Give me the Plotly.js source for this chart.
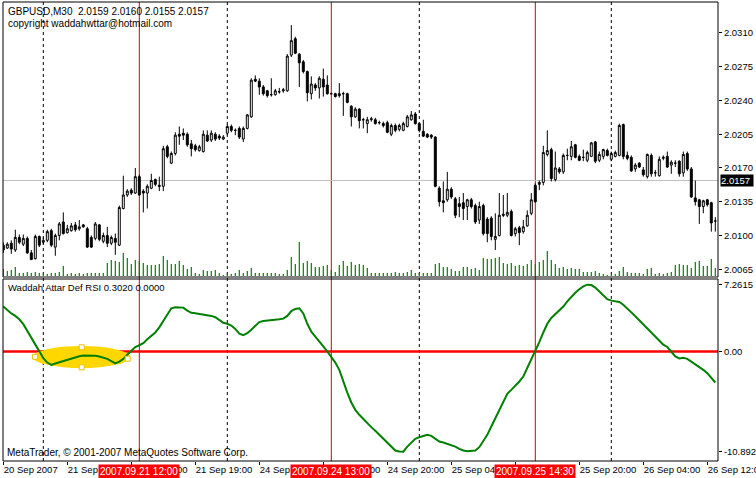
<!DOCTYPE html>
<html><head><meta charset="utf-8">
<script src="https://cdn.plot.ly/plotly-3.0.1.min.js"></script>
<style>html,body{margin:0;padding:0;background:#fff}#chart{width:756px;height:478px}</style>
</head><body><div id="chart"></div>
<script>
// ---- Data (GBPUSD M30, one entry per bar) ----
const open = [
2.0090,2.0087,2.0092,2.0085,2.0098,2.0091,2.0097,2.0082,2.0076,2.0099,
2.0093,2.0095,2.0105,2.0088,2.0100,2.0114,2.0103,2.0105,2.0111,2.0107,
2.0111,2.0107,2.0098,2.0097,2.0111,2.0094,2.0100,2.0092,2.0097,2.0090,
2.0128,2.0142,2.0147,2.0144,2.0161,2.0146,2.0144,2.0149,2.0158,2.0152,
2.0151,2.0192,2.0175,2.0185,2.0205,2.0206,2.0205,2.0195,2.0193,2.0188,
2.0187,2.0204,2.0199,2.0205,2.0203,2.0200,2.0206,2.0213,2.0209,2.0211,
2.0200,2.0211,2.0223,2.0262,2.0260,2.0254,2.0250,2.0246,2.0246,2.0249,
2.0250,2.0250,2.0287,2.0304,2.0288,2.0280,2.0270,2.0247,2.0256,2.0253,
2.0262,2.0256,2.0247,2.0247,2.0247,2.0247,2.0247,2.0234,2.0223,2.0231,
2.0220,2.0216,2.0220,2.0220,2.0217,2.0216,2.0217,2.0205,2.0214,2.0210,
2.0209,2.0213,2.0220,2.0226,2.0216,2.0208,2.0205,2.0204,2.0202,2.0149,
2.0136,2.0137,2.0148,2.0138,2.0133,2.0134,2.0130,2.0137,2.0131,2.0116,
2.0131,2.0117,2.0118,2.0096,2.0100,2.0122,2.0121,2.0125,2.0102,2.0108,
2.0104,2.0110,2.0123,2.0152,2.0153,2.0155,2.0184,2.0189,2.0158,2.0169,
2.0166,2.0183,2.0182,2.0194,2.0182,2.0181,2.0178,2.0182,2.0197,2.0178,
2.0182,2.0188,2.0179,2.0182,2.0183,2.0215,2.0183,2.0181,2.0169,2.0175,
2.0168,2.0161,2.0183,2.0165,2.0162,2.0180,2.0182,2.0173,2.0175,2.0177,
2.0165,2.0185,2.0169,2.0139,2.0137,2.0130,2.0137,2.0134,2.0115];
const high = [
2.0093,2.0093,2.0095,2.0106,2.0101,2.0101,2.0099,2.0085,2.0101,2.0100,
2.0098,2.0106,2.0107,2.0102,2.0114,2.0124,2.0111,2.0113,2.0114,2.0116,
2.0112,2.0109,2.0100,2.0114,2.0112,2.0103,2.0109,2.0100,2.0102,2.0131,
2.0162,2.0148,2.0149,2.0170,2.0163,2.0148,2.0153,2.0164,2.0159,2.0161,
2.0193,2.0194,2.0187,2.0207,2.0213,2.0211,2.0207,2.0199,2.0195,2.0194,
2.0209,2.0209,2.0209,2.0207,2.0205,2.0204,2.0215,2.0215,2.0211,2.0213,
2.0213,2.0226,2.0263,2.0266,2.0263,2.0256,2.0251,2.0263,2.0252,2.0253,
2.0253,2.0288,2.0318,2.0306,2.0289,2.0282,2.0271,2.0265,2.0258,2.0265,
2.0273,2.0266,2.0248,2.0248,2.0258,2.0249,2.0248,2.0235,2.0233,2.0232,
2.0222,2.0223,2.0223,2.0222,2.0219,2.0218,2.0219,2.0216,2.0216,2.0216,
2.0218,2.0225,2.0229,2.0228,2.0217,2.0220,2.0206,2.0205,2.0203,2.0151,
2.0156,2.0166,2.0150,2.0140,2.0140,2.0144,2.0138,2.0139,2.0133,2.0135,
2.0133,2.0119,2.0120,2.0123,2.0144,2.0142,2.0144,2.0127,2.0109,2.0110,
2.0116,2.0126,2.0144,2.0154,2.0157,2.0193,2.0209,2.0191,2.0187,2.0171,
2.0185,2.0190,2.0198,2.0195,2.0184,2.0189,2.0188,2.0197,2.0198,2.0187,
2.0190,2.0190,2.0187,2.0188,2.0216,2.0216,2.0187,2.0183,2.0175,2.0176,
2.0171,2.0185,2.0185,2.0168,2.0182,2.0183,2.0187,2.0178,2.0178,2.0178,
2.0187,2.0187,2.0171,2.0157,2.0138,2.0137,2.0138,2.0135,2.0119];
const low = [
2.0082,2.0086,2.0081,2.0083,2.0091,2.0089,2.0081,2.0075,2.0075,2.0088,
2.0091,2.0093,2.0088,2.0079,2.0095,2.0101,2.0102,2.0104,2.0104,2.0105,
2.0108,2.0087,2.0087,2.0095,2.0094,2.0092,2.0088,2.0090,2.0080,2.0089,
2.0127,2.0140,2.0142,2.0143,2.0141,2.0124,2.0128,2.0148,2.0151,2.0146,
2.0146,2.0180,2.0174,2.0183,2.0194,2.0199,2.0192,2.0182,2.0187,2.0187,
2.0186,2.0197,2.0197,2.0198,2.0199,2.0199,2.0204,2.0207,2.0204,2.0200,
2.0197,2.0210,2.0222,2.0259,2.0246,2.0245,2.0243,2.0244,2.0245,2.0247,
2.0248,2.0249,2.0285,2.0288,2.0254,2.0268,2.0239,2.0241,2.0250,2.0242,
2.0244,2.0246,2.0246,2.0243,2.0243,2.0224,2.0237,2.0213,2.0222,2.0211,
2.0211,2.0206,2.0218,2.0215,2.0215,2.0212,2.0206,2.0203,2.0207,2.0208,
2.0208,2.0212,2.0219,2.0215,2.0207,2.0202,2.0201,2.0200,2.0150,2.0130,
2.0124,2.0135,2.0138,2.0118,2.0119,2.0116,2.0116,2.0128,2.0112,2.0112,
2.0100,2.0093,2.0095,2.0085,2.0099,2.0119,2.0119,2.0099,2.0099,2.0090,
2.0102,2.0109,2.0121,2.0134,2.0147,2.0152,2.0182,2.0156,2.0156,2.0164,
2.0164,2.0178,2.0178,2.0180,2.0177,2.0177,2.0176,2.0182,2.0175,2.0176,
2.0179,2.0182,2.0177,2.0181,2.0182,2.0179,2.0178,2.0166,2.0166,2.0170,
2.0161,2.0159,2.0161,2.0161,2.0161,2.0178,2.0170,2.0164,2.0171,2.0161,
2.0161,2.0167,2.0139,2.0131,2.0112,2.0123,2.0130,2.0104,2.0104];
const close = [
2.0085,2.0091,2.0086,2.0098,2.0093,2.0097,2.0082,2.0075,2.0099,2.0090,
2.0095,2.0104,2.0090,2.0100,2.0112,2.0102,2.0107,2.0110,2.0106,2.0109,
2.0109,2.0088,2.0088,2.0112,2.0096,2.0100,2.0092,2.0098,2.0093,2.0129,
2.0142,2.0146,2.0144,2.0161,2.0142,2.0144,2.0151,2.0157,2.0153,2.0151,
2.0190,2.0182,2.0185,2.0204,2.0203,2.0204,2.0194,2.0190,2.0189,2.0192,
2.0205,2.0198,2.0206,2.0200,2.0201,2.0202,2.0213,2.0209,2.0209,2.0202,
2.0211,2.0225,2.0261,2.0260,2.0254,2.0247,2.0245,2.0246,2.0250,2.0249,
2.0251,2.0286,2.0302,2.0289,2.0279,2.0270,2.0248,2.0257,2.0253,2.0263,
2.0254,2.0247,2.0247,2.0244,2.0245,2.0247,2.0238,2.0223,2.0231,2.0219,
2.0220,2.0220,2.0221,2.0216,2.0217,2.0214,2.0207,2.0214,2.0209,2.0214,
2.0216,2.0223,2.0225,2.0216,2.0209,2.0203,2.0202,2.0202,2.0151,2.0135,
2.0134,2.0148,2.0140,2.0121,2.0130,2.0128,2.0137,2.0130,2.0114,2.0130,
2.0102,2.0102,2.0099,2.0099,2.0121,2.0121,2.0124,2.0100,2.0107,2.0103,
2.0109,2.0121,2.0137,2.0135,2.0155,2.0186,2.0188,2.0159,2.0170,2.0166,
2.0183,2.0183,2.0192,2.0181,2.0178,2.0181,2.0186,2.0196,2.0177,2.0184,
2.0189,2.0183,2.0185,2.0186,2.0214,2.0182,2.0180,2.0167,2.0173,2.0171,
2.0163,2.0184,2.0164,2.0165,2.0179,2.0181,2.0171,2.0176,2.0175,2.0164,
2.0184,2.0169,2.0140,2.0135,2.0130,2.0136,2.0132,2.0113,2.0115];
const volume = [
70,50,60,90,30,30,40,30,40,30,
20,20,30,30,40,100,20,30,20,30,
20,30,30,30,30,30,130,160,150,140,
230,180,120,160,150,130,110,110,110,120,
200,160,120,120,150,110,70,90,30,20,
60,50,50,60,30,10,20,20,30,60,
30,50,80,30,30,30,30,30,30,20,
20,60,190,120,340,130,150,130,90,90,
100,110,60,40,110,150,100,140,110,120,
110,80,30,30,30,30,30,30,40,30,
30,40,60,30,30,30,30,30,120,130,
90,90,70,50,50,90,90,70,80,60,
180,170,170,180,190,130,120,130,100,110,
100,120,160,120,140,160,250,160,120,80,
90,70,80,70,70,40,40,40,50,30,
20,10,10,20,50,90,40,30,30,30,
20,70,80,20,30,20,30,40,110,120,
110,110,80,140,150,100,100,170,80];
const defRsi = [
4.89,4.51,4.14,3.87,3.50,2.97,2.25,1.50,0.75,0.11,
-0.72,-1.20,-1.45,-1.30,-1.16,-1.01,-0.91,-0.76,-0.65,-0.51,
-0.43,-0.43,-0.43,-0.47,-0.54,-0.65,-0.80,-1.05,-1.30,-1.09,
-0.80,-0.36,0.11,0.49,0.68,0.90,1.32,1.69,2.07,2.63,
3.34,4.03,4.70,4.81,4.81,4.77,4.44,4.21,4.17,4.10,
4.06,3.99,3.87,3.73,3.38,3.12,3.01,2.82,2.45,1.95,
1.77,1.99,2.37,2.82,3.20,3.31,3.34,3.42,3.46,3.50,
3.57,3.87,4.40,4.63,4.70,4.14,3.01,2.15,1.62,1.13,
0.56,0.00,-0.54,-1.20,-1.99,-3.26,-4.46,-5.54,-6.34,-6.88,
-7.36,-7.79,-8.22,-8.62,-9.06,-9.49,-9.86,-10.33,-10.76,-10.87,
-10.89,-10.33,-9.86,-9.49,-9.31,-9.17,-9.06,-9.17,-9.49,-9.78,
-9.89,-10.04,-10.22,-10.33,-10.58,-10.76,-10.85,-10.83,-10.76,-10.40,
-9.78,-9.06,-8.15,-7.25,-6.34,-5.43,-4.60,-4.17,-3.73,-3.26,
-2.72,-1.81,-0.91,0.00,1.02,2.07,3.01,3.65,4.06,4.40,
4.89,5.45,5.94,6.39,6.77,7.07,7.26,7.22,6.95,6.50,
6.02,5.68,5.53,5.45,5.38,5.08,4.70,4.25,3.83,3.38,
2.89,2.44,1.99,1.62,1.13,0.75,0.49,0.00,-0.54,-0.76,
-0.69,-0.80,-1.09,-1.34,-1.63,-1.99,-2.36,-2.83,-3.37];

const tickBars = [0,16,32,48,64,80,96,112,128,144,160,176];
const tickText = ["20 Sep 2007","21 Sep 03:00","21 Sep 11:00","21 Sep 19:00","24 Sep 04:00","24 Sep 12:00",
                  "24 Sep 20:00","25 Sep 04:00","25 Sep 12:00","25 Sep 20:00","26 Sep 04:00","26 Sep 12:00"];
const markBars = [34,82,133];
const markText = ["2007.09.21 12:00","2007.09.24 13:00","2007.09.25 14:30"];
const daySepBars = [10,56,104,152];
const priceTicks = [2.0065,2.0100,2.0135,2.0170,2.0205,2.0240,2.0275,2.0310];
const rsiTicks = [7.2615,0,-10.892];
const rsiTickText = ["7.2615","0.00","-10.892"];
const bidPrice = 2.0157;
const headerText = "GBPUSD,M30\u00a0\u00a02.0159 2.0160 2.0155 2.0157";
const copyText = "copyright waddahwttar@hotmail.com";
const indName = "Waddah Attar Def RSI 0.3020 0.0000";
const mtText = "MetaTrader, \u00a9 2001-2007 MetaQuotes Software Corp.";

// ---- Layout helpers ----
const Lp=3, Rp=718, Tp=2, Bp=461;
const px = x => (x-Lp)/(Rp-Lp);
const py = y => (Bp-y)/(Bp-Tp);
const topDom=[py(277),1], indDom=[0,py(279)];
const FONT='Liberation Sans, Arial, sans-serif';
const bars = open.map((_,i)=>i);

const traces = [
  {type:'bar', x:bars, y:volume, xaxis:'x', yaxis:'y2', width:0.3,
   marker:{color:'#008000', line:{width:0}}, hoverinfo:'skip', showlegend:false},
  {type:'candlestick', x:bars, open:open, high:high, low:low, close:close, xaxis:'x', yaxis:'y',
   increasing:{line:{color:'#000',width:1}, fillcolor:'#fff'},
   decreasing:{line:{color:'#000',width:1}, fillcolor:'#000'},
   whiskerwidth:0, hoverinfo:'skip', showlegend:false},
  {type:'scatter', mode:'lines', x:bars, y:defRsi, xaxis:'x', yaxis:'y3',
   line:{color:'#008000', width:2}, hoverinfo:'skip', showlegend:false}
];

const shapes = [];
// yellow ellipse drawing object
shapes.push({type:'circle', xref:'x', yref:'y3', x0:7.4, x1:31.7, y0:-1.79, y1:0.60,
  fillcolor:'#FFD700', line:{width:0}, layer:'below'});
daySepBars.forEach(b=>shapes.push({type:'line', xref:'x', yref:'paper', x0:b, x1:b, y0:0, y1:1,
  line:{color:'#000', width:1, dash:'3px,3px'}, layer:'below'}));
markBars.forEach(b=>shapes.push({type:'line', xref:'x', yref:'paper', x0:b, x1:b, y0:0, y1:1,
  line:{color:'#D00000', width:1}, layer:'below'}));
shapes.push({type:'line', xref:'paper', yref:'y', x0:0, x1:1, y0:bidPrice, y1:bidPrice,
  line:{color:'#C0C0C0', width:1}, layer:'below'});
shapes.push({type:'line', xref:'paper', yref:'y3', x0:0, x1:1, y0:0, y1:0,
  line:{color:'#FF0000', width:2.5}, layer:'below'});
// handles of the ellipse
[[7.9,-0.57],[31.1,-0.78],[19.6,0.46],[19.6,-1.72]].forEach(h=>shapes.push({type:'rect',
  xref:'x', yref:'y3', xsizemode:'pixel', ysizemode:'pixel', xanchor:h[0], yanchor:h[1],
  x0:-2.5, x1:2.5, y0:-2.5, y1:2.5, fillcolor:'#fff', line:{color:'#E8C000', width:1}, layer:'above'}));
// panel borders
shapes.push({type:'rect', xref:'paper', yref:'paper', x0:0, x1:1, y0:topDom[0], y1:1,
  line:{color:'#000', width:1}, fillcolor:'rgba(0,0,0,0)', layer:'above'});
shapes.push({type:'rect', xref:'paper', yref:'paper', x0:0, x1:1, y0:0, y1:indDom[1],
  line:{color:'#000', width:1}, fillcolor:'rgba(0,0,0,0)', layer:'above'});

const f = (c,s)=>({family:FONT, size:s||10, color:c||'#000'});
const annotations = [
  {xref:'paper', yref:'paper', x:px(6), y:py(11.5), xanchor:'left', yanchor:'middle', text:headerText, showarrow:false, font:f()},
  {xref:'paper', yref:'paper', x:px(6), y:py(23.5), xanchor:'left', yanchor:'middle', text:copyText, showarrow:false, font:f()},
  {xref:'paper', yref:'paper', x:px(6), y:py(287.5), xanchor:'left', yanchor:'middle', text:indName, showarrow:false, font:f(null,9.5)},
  {xref:'paper', yref:'paper', x:px(5), y:py(452.5), xanchor:'left', yanchor:'middle', text:mtText, showarrow:false, font:f()},
  {xref:'paper', yref:'y', x:px(720), y:bidPrice, xanchor:'left', yanchor:'middle', text:bidPrice.toFixed(4)+'\u00a0',
   showarrow:false, font:f('#fff',9.5), bgcolor:'#000', borderpad:0}
];
markBars.forEach((b,i)=>annotations.push({xref:'x', yref:'paper', x:b, y:py(471), xanchor:'center', yanchor:'middle',
  text:markText[i], showarrow:false, font:f('#fff'), bgcolor:'#FF0000', borderpad:1}));

const layout = {
  width:756, height:478, margin:{l:Lp, r:756-Rp, t:Tp, b:478-Bp, pad:0},
  paper_bgcolor:'#fff', plot_bgcolor:'#fff', showlegend:false, hovermode:false,
  font:f(),
  xaxis:{anchor:'y3', range:[-0.075,178.675], showgrid:false, zeroline:false, showline:false,
    tickmode:'array', tickvals:tickBars, ticktext:tickText, ticks:'outside', ticklen:3, tickcolor:'#000',
    tickangle:0, autotickangles:[0], ticklabelposition:'outside right', ticklabeloverflow:'allow',
    tickfont:f(null,9.5), rangeslider:{visible:false}, fixedrange:true},
  yaxis:{domain:topDom, anchor:'x', side:'right', range:[2.005698,2.034205], showgrid:false, zeroline:false,
    showline:false, tickmode:'array', tickvals:priceTicks, ticktext:priceTicks.map(v=>v.toFixed(4)),
    ticks:'outside', ticklen:3, tickcolor:'#000', tickfont:f(null,9.5), fixedrange:true},
  yaxis2:{overlaying:'y', range:[-10,2740], visible:false, fixedrange:true},
  yaxis3:{domain:indDom, anchor:'x', side:'right', range:[-11.90,7.88], showgrid:false, zeroline:false,
    showline:false, tickmode:'array', tickvals:rsiTicks, ticktext:rsiTickText,
    ticks:'outside', ticklen:3, tickcolor:'#000', tickfont:f(null,9.5), fixedrange:true},
  shapes:shapes, annotations:annotations
};
Plotly.newPlot('chart', traces, layout, {staticPlot:true, displayModeBar:false});
</script></body></html>
